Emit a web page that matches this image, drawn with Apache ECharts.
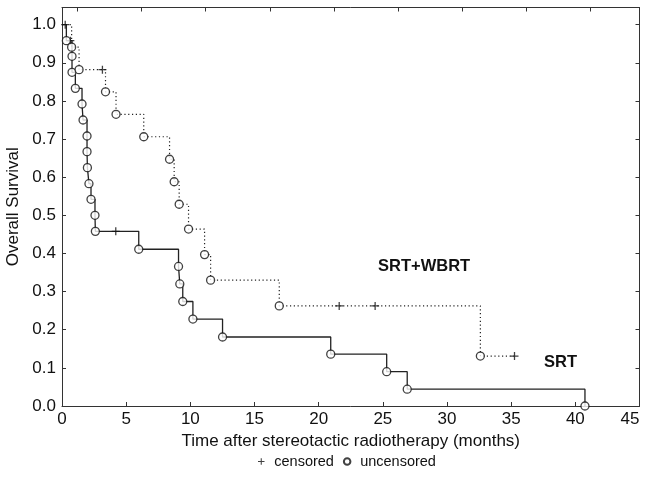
<!DOCTYPE html>
<html><head><meta charset="utf-8">
<script src="https://cdn.jsdelivr.net/npm/echarts@6/dist/echarts.min.js"></script>
<style>html,body{margin:0;padding:0;background:#fff}#c{width:650px;height:479px}</style>
</head><body><div id="c"></div>
<script>
// Tick values
const xTicks = [0, 5, 10, 15, 20, 25, 30, 35, 40, 45];
const yTicks = [0.0, 0.1, 0.2, 0.3, 0.4, 0.5, 0.6, 0.7, 0.8, 0.9, 1.0];
const topTickValues = [1.2, 6.2, 11.2, 16.2, 21.2, 26.2, 31.2, 36.2, 41.2];

// SRT group (solid line): deaths (uncensored) and censored observations
const srtDeathTimes = [0.34, 0.78, 0.78, 1.04, 1.56, 1.64, 1.95, 1.95, 1.98, 2.10, 2.26, 2.57, 2.60, 5.98, 9.08, 9.18, 9.41, 10.20, 12.51, 20.94, 25.30, 26.90, 40.75];
const srtDeathSurv  = [0.958, 0.917, 0.875, 0.833, 0.792, 0.750, 0.708, 0.667, 0.625, 0.583, 0.542, 0.500, 0.458, 0.411, 0.366, 0.320, 0.274, 0.228, 0.181, 0.136, 0.090, 0.044, 0.0];
const srtCensorTimes = [0.65, 4.19];
const srtCensorSurv  = [0.958, 0.458];

// SRT+WBRT group (dotted line)
const wbrtDeathTimes = [0.75, 1.33, 3.39, 4.21, 6.37, 8.38, 8.74, 9.13, 9.86, 11.11, 11.58, 16.93, 32.60];
const wbrtDeathSurv  = [0.941, 0.882, 0.824, 0.765, 0.706, 0.647, 0.588, 0.529, 0.464, 0.397, 0.330, 0.2625, 0.131];
const wbrtCensorTimes = [0.25, 3.15, 21.6, 24.4, 35.26];
const wbrtCensorSurv  = [1.0, 0.882, 0.2625, 0.2625, 0.131];

function stepData(dT, dS, cT, cS) {
  const pts = [[0, 1]];
  for (let i = 0; i < dT.length; i++) pts.push([dT[i], dS[i]]);
  const lastD = dT[dT.length - 1];
  let maxC = -1, maxCi = -1;
  for (let i = 0; i < cT.length; i++) if (cT[i] > maxC) { maxC = cT[i]; maxCi = i; }
  if (maxC > lastD) pts.push([maxC, cS[maxCi]]);
  return pts;
}
function zipPts(t, s) { return t.map((v, i) => [v, s[i]]); }

const FONT = 'Liberation Sans, Arial, sans-serif';
const INK = '#111';
const plusPath = 'path://M4.2,0H5.8V4.2H10V5.8H5.8V10H4.2V5.8H0V4.2H4.2Z';

const chart = echarts.init(document.getElementById('c'), null, {renderer: 'canvas'});
const axisLineStyle = {color: '#333', width: 1};
chart.setOption({
  animation: false,
  backgroundColor: '#fff',
  grid: {left: 62, right: 10.5, top: 7.5, bottom: 73, containLabel: false, outerBoundsMode: 'none'},
  xAxis: [{
    type: 'value', min: 0, max: 45, interval: 5, position: 'bottom',
    name: 'Time after stereotactic radiotherapy (months)', nameLocation: 'middle', nameGap: 19,
    nameTextStyle: {fontFamily: FONT, fontSize: 17, color: INK},
    axisLine: {show: true, lineStyle: axisLineStyle},
    axisTick: {show: true, inside: true, length: 4, lineStyle: axisLineStyle},
    axisLabel: {fontFamily: FONT, fontSize: 17, color: INK, margin: 5, alignMaxLabel: 'right',
      customValues: xTicks, formatter: v => String(v)},
    splitLine: {show: false}
  }, {
    type: 'value', min: 0, max: 45, position: 'top',
    axisLine: {show: true, onZero: false, lineStyle: axisLineStyle},
    axisTick: {show: true, inside: true, length: 4, lineStyle: axisLineStyle, customValues: topTickValues},
    axisLabel: {show: false}, splitLine: {show: false}
  }],
  yAxis: [{
    type: 'value', min: 0, max: 1.045, interval: 0.1, position: 'left',
    name: 'Overall Survival', nameLocation: 'middle', nameGap: 39,
    nameTextStyle: {fontFamily: FONT, fontSize: 17, color: INK},
    axisLine: {show: true, onZero: false, lineStyle: axisLineStyle},
    axisTick: {show: true, inside: true, length: 4, lineStyle: axisLineStyle, customValues: yTicks},
    axisLabel: {fontFamily: FONT, fontSize: 17, color: INK, margin: 6,
      customValues: yTicks, formatter: v => v.toFixed(1)},
    splitLine: {show: false}
  }, {
    type: 'value', min: 0, max: 1.045, position: 'right',
    axisLine: {show: true, onZero: false, lineStyle: axisLineStyle},
    axisTick: {show: true, inside: true, length: 4, lineStyle: axisLineStyle, customValues: yTicks},
    axisLabel: {show: false}, splitLine: {show: false}
  }],
  legend: {
    data: ['censored', 'uncensored'], left: 253, top: 449,
    itemWidth: 16, itemHeight: 6.5, itemGap: 9, symbolKeepAspect: true,
    textStyle: {fontFamily: FONT, fontSize: 14.5, color: INK},
    selectedMode: false
  },
  graphic: [
    {type: 'text', left: 378, top: 258, style: {text: 'SRT+WBRT', font: 'bold 16.5px Liberation Sans, Arial, sans-serif', fill: '#111'}},
    {type: 'text', left: 544, top: 354, style: {text: 'SRT', font: 'bold 16.5px Liberation Sans, Arial, sans-serif', fill: '#111'}}
  ],
  series: [
    {
      name: 'SRT', type: 'line', step: 'end', showSymbol: false, symbol: 'none',
      data: stepData(srtDeathTimes, srtDeathSurv, srtCensorTimes, srtCensorSurv),
      lineStyle: {color: '#222', width: 1.3, type: 'solid'}, z: 2, clip: false
    },
    {
      name: 'SRT+WBRT', type: 'line', step: 'end', showSymbol: false, symbol: 'none',
      data: stepData(wbrtDeathTimes, wbrtDeathSurv, wbrtCensorTimes, wbrtCensorSurv),
      lineStyle: {color: '#222', width: 1.2, type: [1.2, 2.6]}, z: 2, clip: false
    },
    {
      name: 'censored', type: 'scatter', symbol: plusPath, symbolSize: 8,
      data: zipPts(srtCensorTimes, srtCensorSurv).concat(zipPts(wbrtCensorTimes, wbrtCensorSurv)),
      itemStyle: {color: '#111'}, z: 4, clip: false
    },
    {
      name: 'uncensored', type: 'scatter', symbol: 'circle', symbolSize: 8,
      data: zipPts(srtDeathTimes, srtDeathSurv).concat(zipPts(wbrtDeathTimes, wbrtDeathSurv)),
      itemStyle: {color: '#fff', borderColor: '#111', borderWidth: 1.3}, z: 5, clip: false
    }
  ]
});
</script>
</body></html>
